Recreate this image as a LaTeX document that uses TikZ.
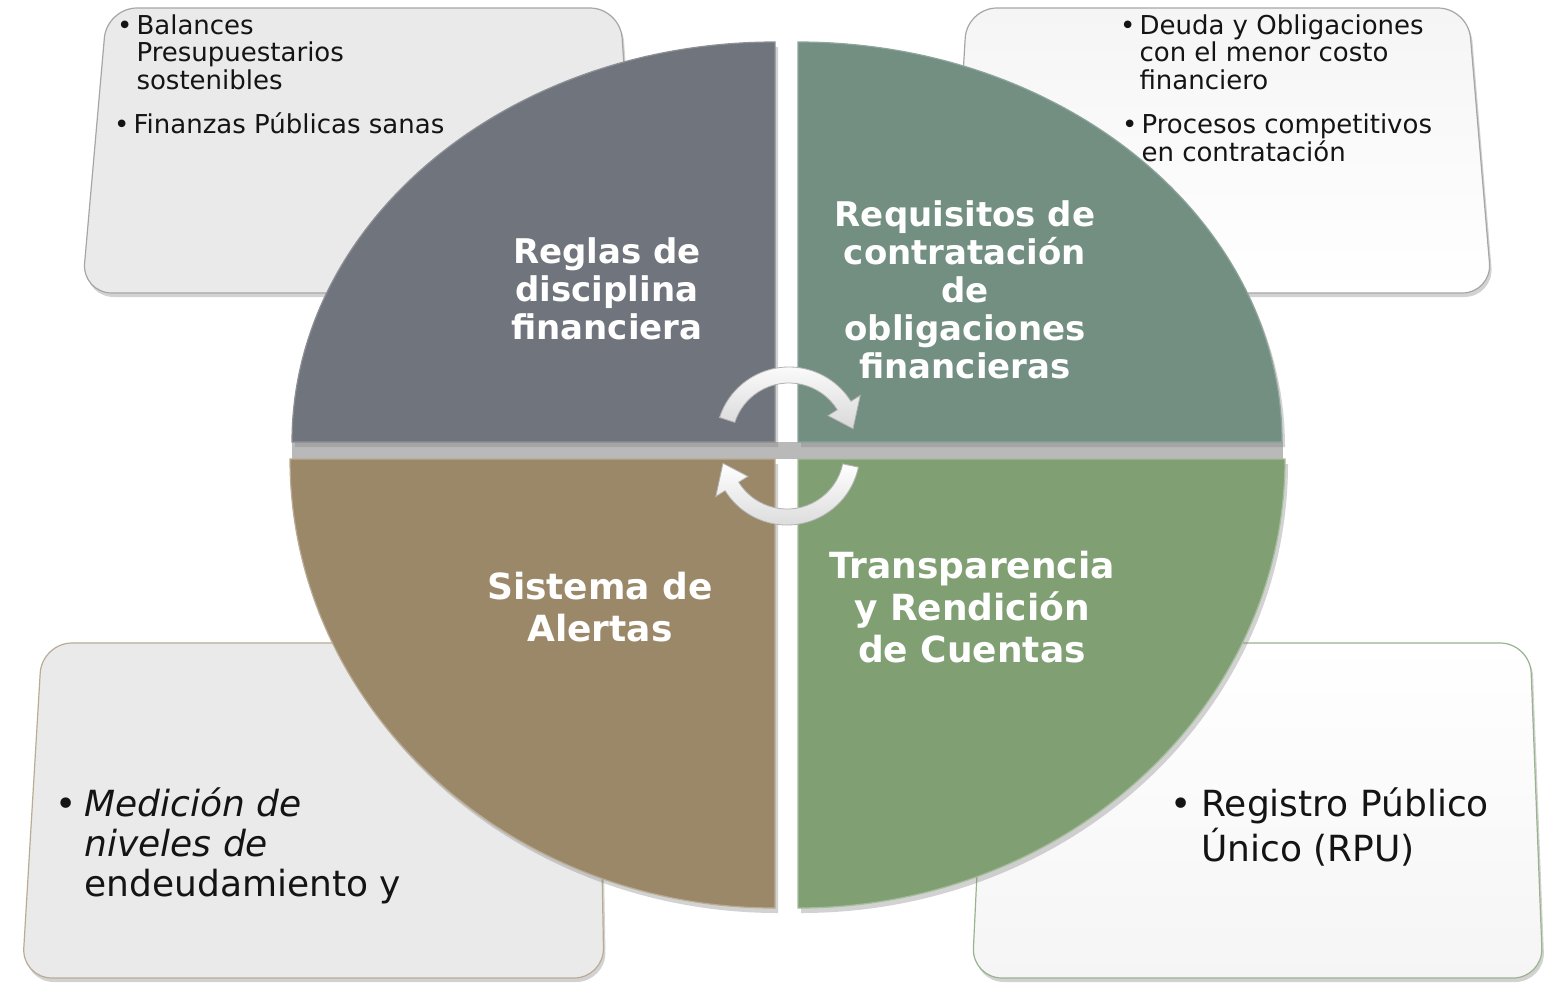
\documentclass[tikz,border=0pt]{standalone}
\usepackage{fontspec}
\setmainfont{DejaVu Sans}
\usetikzlibrary{shadows,calc}
\definecolor{qgray}{RGB}{112,116,124}
\definecolor{qteal}{RGB}{114,143,130}
\definecolor{qtan}{RGB}{155,136,104}
\definecolor{qgreen}{RGB}{128,160,115}
\definecolor{boxA}{RGB}{234,234,234}
\definecolor{boxB}{RGB}{245,245,245}
\definecolor{txt}{RGB}{20,20,20}
\tikzset{
  sidebox/.style={rounded corners=30pt, line width=1.2pt,
    drop shadow={shadow xshift=2pt, shadow yshift=-4pt, opacity=0.35}},
  quad/.style={line width=1.2pt,
    drop shadow={shadow xshift=3pt, shadow yshift=-5pt, opacity=0.35}},
  title/.style={text=white, align=center, inner sep=0pt,
    font=\bfseries\fontsize{34}{38}\selectfont},
  bigtitle/.style={title, font=\bfseries\fontsize{36}{42}\selectfont},
  smalltext/.style={text=txt, inner sep=0pt, anchor=base west,
    font=\fontsize{26}{26}\selectfont},
  bigtext/.style={text=txt, inner sep=0pt, anchor=base west,
    font=\fontsize{36}{40}\selectfont},
  cyclearrow/.style={top color=white, bottom color=gray!30, draw=gray!60, line width=0.8pt}
}
\begin{document}
\begin{tikzpicture}[x=1pt,y=-1pt]
\useasboundingbox (0,0) rectangle (1545,986);
\fill[white] (0,0) rectangle (1545,986);

% side boxes
\path[sidebox, fill=boxA, draw=gray!70] (107,8) -- (620,8) -- (640,293) -- (82,293) -- cycle;
\path[sidebox, top color=boxB, bottom color=white, draw=gray!70] (967,8) -- (1468,8) -- (1492,293) -- (950,293) -- cycle;
\path[sidebox, fill=boxA, draw=qtan!70] (42,643) -- (598,643) -- (604,978) -- (22,978) -- cycle;
\path[sidebox, top color=white, bottom color=boxB, draw=qgreen!80] (988,643) -- (1530,643) -- (1543,978) -- (972,978) -- cycle;

% gap band
\fill[gray!55] (292,442) rectangle (1283,459);

% quadrants
\path[quad, fill=qgray, draw=qgray!80!white] (775,442) -- (292,442) arc[start angle=180, end angle=270, x radius=483, y radius=400] -- cycle;
\path[quad, fill=qteal, draw=qteal!80!white] (798,442) -- (798,42) arc[start angle=270, end angle=360, x radius=484, y radius=400] -- cycle;
\path[quad, fill=qtan, draw=qtan!70!white] (775,459) -- (290,459) arc[start angle=180, end angle=90, x radius=485, y radius=449] -- cycle;
\path[quad, fill=qgreen, draw=qgreen!70!white] (798,459) -- (1285,459) arc[start angle=0, end angle=90, x radius=487, y radius=449] -- cycle;

% cycle arrows
\coordinate (c1) at (789,440);
\coordinate (c2) at (787,452);
\path[cyclearrow] ($(c1)+(198:73)$) arc[start angle=198, end angle=328, radius=73]
  -- ($(c1)+(328:84)$) -- ($(c1)+(350:65)$) -- ($(c1)+(328:46)$)
  -- ($(c1)+(328:57)$) arc[start angle=328, end angle=198, radius=57] -- cycle;
\path[cyclearrow] ($(c2)+(12:73)$) arc[start angle=12, end angle=148, radius=73]
  -- ($(c2)+(148:84)$) -- ($(c2)+(170:65)$) -- ($(c2)+(148:46)$)
  -- ($(c2)+(148:57)$) arc[start angle=148, end angle=12, radius=57] -- cycle;

% titles
\node[title] (reglas) at (607,289) {Reglas de\\disciplina\\financiera};
\node[title] (requisitos) at (965,290) {Requisitos de\\contratación\\de\\obligaciones\\financieras};
\node[bigtitle] (sistema) at (600,607) {Sistema de\\Alertas};
\node[bigtitle] (transp) at (972,607) {Transparencia\\y Rendición\\de Cuentas};

% box texts
\node[smalltext] (tl1) at (117,34) {\begin{tabular}[t]{@{}l@{\hspace{4pt}}l@{}}•&Balances\\&Presupuestarios\\&sostenibles\end{tabular}};
\node[smalltext] (tl2) at (114,133) {•\hspace{4pt}Finanzas Públicas sanas};
\node[smalltext] (tr1) at (1120,34) {\begin{tabular}[t]{@{}l@{\hspace{4pt}}l@{}}•&Deuda y Obligaciones\\&con el menor costo\\&financiero\end{tabular}};
\node[smalltext] (tr2) at (1122,133) {\begin{tabular}[t]{@{}l@{\hspace{4pt}}l@{}}•&Procesos competitivos\\&en contratación\end{tabular}};
\node[bigtext] (bl1) at (55,816) {\begin{tabular}[t]{@{}l@{\hspace{8pt}}l@{}}•&\textit{Medición de}\\&\textit{niveles de}\\&endeudamiento y\end{tabular}};
\node[bigtext] (br1) at (1170,816) {\begin{tabular}[t]{@{}l@{\hspace{10pt}}l@{}}•&Registro Público\\&Único (RPU)\end{tabular}};
\end{tikzpicture}
\end{document}
